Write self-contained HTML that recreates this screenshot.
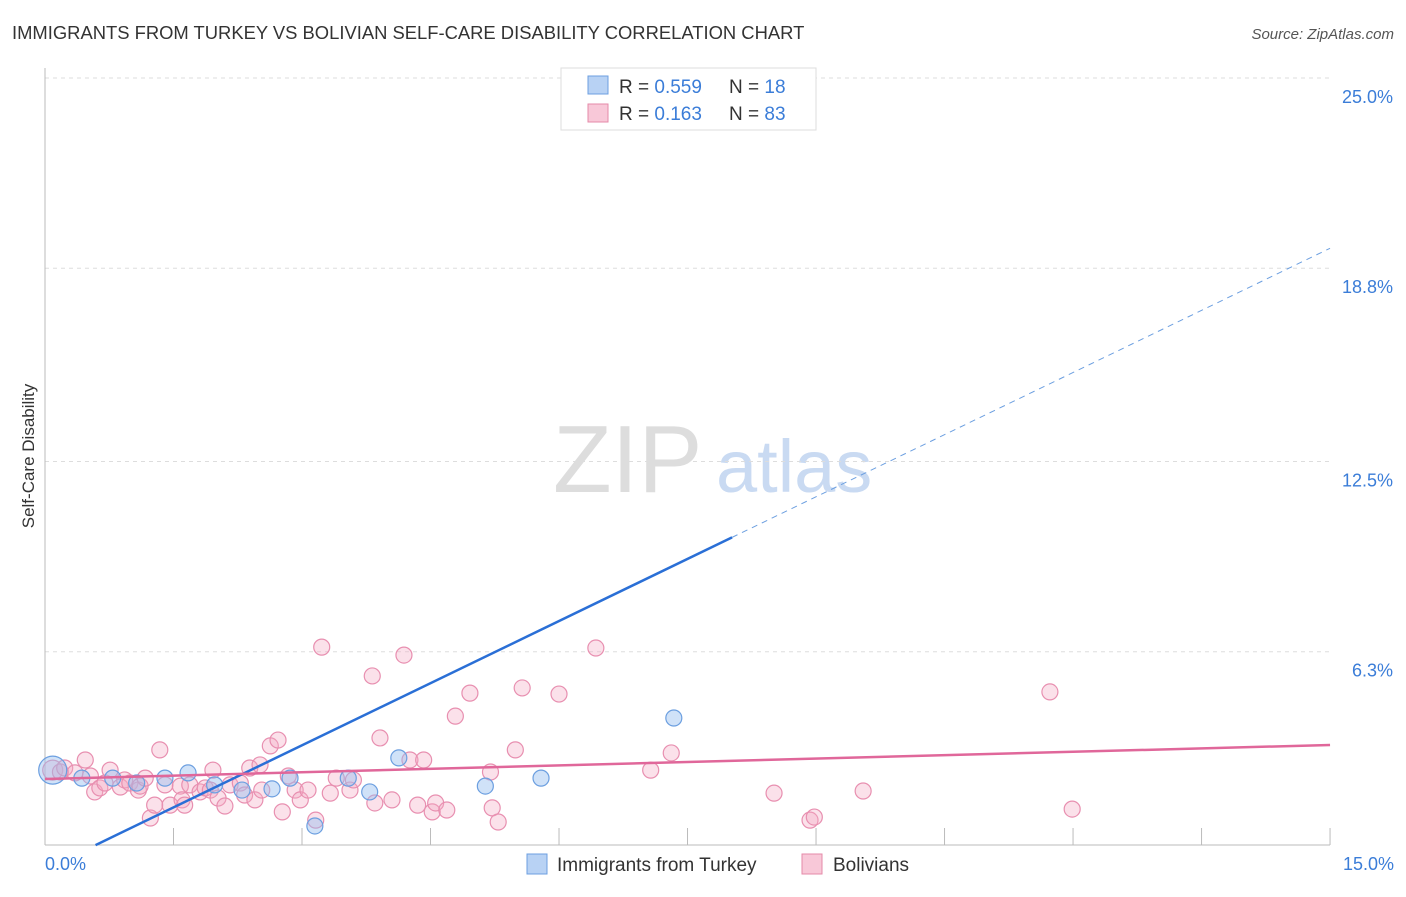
<!DOCTYPE html>
<html><head><meta charset="utf-8"><style>
body{margin:0;background:#fff;font-family:"Liberation Sans",sans-serif;}
svg text{font-family:"Liberation Sans",sans-serif;}
</style></head><body>
<svg width="1406" height="892" viewBox="0 0 1406 892">
<text x="12" y="39" font-size="18.4" fill="#333">IMMIGRANTS FROM TURKEY VS BOLIVIAN SELF-CARE DISABILITY CORRELATION CHART</text>
<text x="1394" y="39" font-size="15" fill="#555" font-style="italic" text-anchor="end">Source: ZipAtlas.com</text>
<g>
<text x="553" y="492" font-size="96" fill="#ddd" font-family="Liberation Serif,serif">ZIP</text>
<text x="716" y="492" font-size="74" fill="#c9daf2">atlas</text>
</g>
<g id="grid"></g>
<g id="axes"></g>
<text transform="translate(34,456) rotate(-90)" font-size="17" fill="#333" text-anchor="middle">Self-Care Disability</text>
<g id="marks"></g>
<g>
<rect x="561" y="68" width="255" height="62" fill="#fff" stroke="#ddd"/>
<rect x="588" y="76" width="20" height="18" fill="#b8d2f4" stroke="#6c9fe0"/>
<text x="619" y="93" font-size="19" fill="#333">R = <tspan fill="#3b7dd8">0.559</tspan></text>
<text x="729" y="93" font-size="19" fill="#333">N = <tspan fill="#3b7dd8">18</tspan></text>
<rect x="588" y="104" width="20" height="18" fill="#f8c8d8" stroke="#e58aa8"/>
<text x="619" y="120" font-size="19" fill="#333">R = <tspan fill="#3b7dd8"> 0.163</tspan></text>
<text x="729" y="120" font-size="19" fill="#333">N = <tspan fill="#3b7dd8">83</tspan></text>
</g>
<g>
<rect x="527" y="854" width="20" height="20" fill="#b8d2f4" stroke="#6c9fe0"/>
<text x="557" y="871" font-size="19" fill="#333">Immigrants from Turkey</text>
<rect x="802" y="854" width="20" height="20" fill="#f8c8d8" stroke="#e58aa8"/>
<text x="833" y="871" font-size="19" fill="#333">Bolivians</text>
</g>
</svg>
<script>
const yTicks=[6.3,12.5,18.8,25.0];
const xTickLabels=["0.0%","15.0%"];
const blueX=[0.09,0.43,0.79,1.07,1.40,1.67,1.98,2.30,2.65,2.86,3.15,3.54,3.79,4.13,5.14,5.79,7.34,7.86];
const blueY=[2.44,2.18,2.18,2.02,2.18,2.35,1.96,1.79,1.83,2.18,0.62,2.18,1.73,2.84,1.92,2.18,4.14,24.93];
const pinkX=[0.09,.18,.23,.35,.47,.53,.58,.64,.70,.76,.88,.93,.99,1.09,1.11,1.17,1.23,1.28,1.34,1.40,1.46,1.58,1.60,1.63,1.69,1.81,1.87,1.93,1.96,2.02,2.10,2.16,2.28,2.33,2.39,2.45,2.51,2.53,2.63,2.72,2.77,2.84,2.92,2.98,3.07,3.16,3.23,3.33,3.40,3.56,3.60,3.82,3.85,3.91,4.05,4.19,4.26,4.35,4.42,4.52,4.56,4.69,4.79,4.96,5.20,5.22,5.29,5.49,5.57,6.00,6.43,7.07,7.31,8.51,8.93,8.98,9.55,11.73,11.99];
const pinkY=[2.44,2.38,2.51,2.35,2.77,2.25,1.73,1.86,2.02,2.44,1.89,2.12,2.02,1.79,1.92,2.18,0.88,1.30,3.10,1.96,1.30,1.92,1.47,1.30,1.96,1.73,1.86,1.79,2.44,1.53,1.27,1.96,2.02,1.63,2.51,1.47,2.61,1.79,3.23,3.42,1.08,2.25,1.79,1.47,1.79,0.81,6.45,1.69,2.18,1.79,2.12,5.51,1.37,3.49,1.47,6.19,2.77,1.30,2.77,1.08,1.37,1.14,4.20,4.95,2.38,1.21,0.75,3.10,5.12,4.92,6.42,2.44,3.00,1.69,0.81,0.91,1.76,4.99,1.17];
const blueTrend=[-0.8,1.35]; // intercept, slope
const pinkTrend=[2.15,0.074];
const X=v=>45+v*85.67, Y=v=>845-v*30.68;
const NS="http://www.w3.org/2000/svg";
function mk(tag,attrs,parent){const e=document.createElementNS(NS,tag);for(const k in attrs)e.setAttribute(k,attrs[k]);document.getElementById(parent).appendChild(e);return e;}
yTicks.forEach(t=>{
 const l=mk('line',{x1:45,x2:1330,y1:Y(t),y2:Y(t),stroke:'#ddd','stroke-dasharray':'4,4'},'grid');
 
 
 const tx=mk('text',{x:1393,y:Y(t)+25,'font-size':18,fill:'#3b7dd8','text-anchor':'end'},'grid');
 tx.textContent=t.toFixed(1)+'%';
 
 
});
const ax=mk('line',{x1:45,x2:45,y1:68,y2:845,stroke:'#bbb'},'axes');


const bx=mk('line',{x1:45,x2:1330,y1:845,y2:845,stroke:'#bbb'},'axes');


for(let i=1;i<=10;i++){const t=mk('line',{x1:X(i*1.5),x2:X(i*1.5),y1:828,y2:845,stroke:'#bbb'},'axes');
 
 }
[[0,'start',45],[15,'end',1394]].forEach((d,i)=>{const t=mk('text',{x:d[2],y:870,'font-size':18,fill:'#3b7dd8','text-anchor':d[1]},'axes');t.textContent=xTickLabels[i];
 
 });
pinkX.forEach((x,i)=>{const c=mk('circle',{cx:X(x),cy:Y(pinkY[i]),r:i==0?10:8,fill:'rgba(244,168,196,0.35)',stroke:'#e88fb0','stroke-width':1.2},'marks');
 
 });
blueX.forEach((x,i)=>{const c=mk('circle',{cx:X(x),cy:Y(blueY[i]),r:i==0?14:8,fill:'rgba(150,190,240,0.45)',stroke:'#6c9fe0','stroke-width':1.2},'marks');
 
 });
const bs=0.59, be=8.02;
const b1=mk('line',{x1:X(bs),y1:Y(blueTrend[0]+blueTrend[1]*bs),x2:X(be),y2:Y(blueTrend[0]+blueTrend[1]*be),stroke:'#2a6fd6','stroke-width':2.5},'marks');


const b2=mk('line',{x1:X(be),y1:Y(blueTrend[0]+blueTrend[1]*be),x2:X(15),y2:Y(blueTrend[0]+blueTrend[1]*15),stroke:'#6c9fe0','stroke-width':1,'stroke-dasharray':'6,5'},'marks');


const p1=mk('line',{x1:X(0),y1:Y(pinkTrend[0]),x2:X(15),y2:Y(pinkTrend[0]+pinkTrend[1]*15),stroke:'#e0679a','stroke-width':2.5},'marks');


</script>
</body></html>
